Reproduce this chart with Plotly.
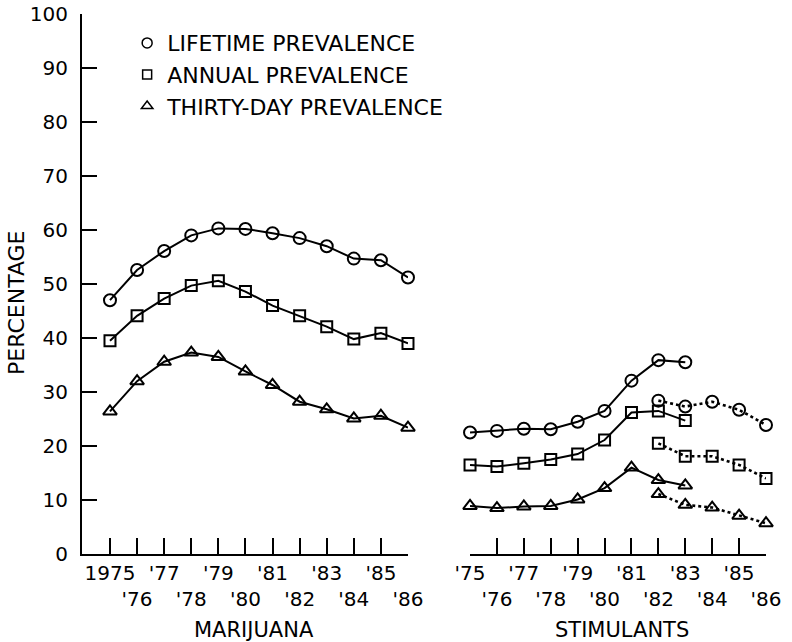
import plotly.graph_objects as go

years = list(range(1975, 1987))

# Marijuana, 1975-1986
mj_lifetime = [47.0, 52.6, 56.1, 59.0, 60.3, 60.2, 59.4, 58.5, 57.0, 54.7, 54.4, 51.2]
mj_annual = [39.5, 44.1, 47.3, 49.7, 50.6, 48.6, 46.0, 44.1, 42.1, 39.8, 40.9, 39.0]
mj_thirty = [26.4, 32.0, 35.6, 37.3, 36.5, 33.8, 31.3, 28.2, 26.8, 25.1, 25.6, 23.4]

# Stimulants, old definition 1975-1983 (solid)
st_years_old = list(range(1975, 1984))
st_lifetime_old = [22.5, 22.8, 23.2, 23.1, 24.5, 26.5, 32.1, 35.9, 35.5]
st_annual_old = [16.5, 16.2, 16.8, 17.5, 18.5, 21.1, 26.2, 26.5, 24.7]
st_thirty_old = [8.9, 8.5, 8.8, 8.9, 10.1, 12.2, 16.0, 13.7, 12.7]

# Stimulants, revised definition 1982-1986 (dotted)
st_years_new = list(range(1982, 1987))
st_lifetime_new = [28.4, 27.3, 28.2, 26.7, 23.9]
st_annual_new = [20.5, 18.1, 18.1, 16.5, 14.0]
st_thirty_new = [11.1, 9.1, 8.6, 7.1, 5.7]

# staggered tick labels: odd years on the first row, even years on the second
short = ["'%02d" % (y % 100) for y in years]
tick_text_mj = [("1975" if i == 0 else t) if i % 2 == 0 else "<br>" + t for i, t in enumerate(short)]
tick_text_st = [t if i % 2 == 0 else "<br>" + t for i, t in enumerate(short)]

FONT = "DejaVu Sans"
symbols = {"life": ("circle-open", 12), "annual": ("square-open", 11), "thirty": ("triangle-up-open", 12)}

fig = go.Figure()


def add(x, y, kind, xaxis, dash="solid"):
    sym, size = symbols[kind]
    fig.add_trace(go.Scatter(
        x=x, y=y, xaxis=xaxis, yaxis="y", mode="lines+markers",
        line=dict(color="black", width=2.6 if dash == "dot" else 2, dash=dash),
        marker=dict(symbol=sym, size=size, color="black", line=dict(width=2, color="black")),
        showlegend=False, cliponaxis=False,
    ))


add(years, mj_lifetime, "life", "x")
add(years, mj_annual, "annual", "x")
add(years, mj_thirty, "thirty", "x")
add(st_years_old, st_lifetime_old, "life", "x2")
add(st_years_old, st_annual_old, "annual", "x2")
add(st_years_old, st_thirty_old, "thirty", "x2")
add(st_years_new, st_lifetime_new, "life", "x2", dash="dot")
add(st_years_new, st_annual_new, "annual", "x2", dash="dot")
add(st_years_new, st_thirty_new, "thirty", "x2", dash="dot")

# legend-only entries (markers without lines)
for name, kind in [("LIFETIME PREVALENCE", "life"), ("ANNUAL PREVALENCE", "annual"),
                   ("THIRTY-DAY PREVALENCE", "thirty")]:
    sym, size = symbols[kind]
    fig.add_trace(go.Scatter(
        x=[None], y=[None], mode="markers", name=name,
        marker=dict(symbol=sym, size=size - 2, color="black", line=dict(width=1.5, color="black")),
    ))

axis_common = dict(
    showline=True, linecolor="black", linewidth=2, ticks="inside", ticklen=16,
    tickwidth=2, tickcolor="black", showgrid=False, zeroline=False, tickangle=0,
    automargin=False, tickfont=dict(family=FONT, size=20, color="black"), tickvals=years,
)

fig.update_layout(
    width=792, height=642,
    margin=dict(l=82, r=26, t=14, b=88),
    paper_bgcolor="white", plot_bgcolor="white",
    font=dict(family=FONT, color="black"),
    xaxis=dict(domain=[0, 0.4766], range=[1973.967, 1986], ticktext=tick_text_mj, anchor="y",
               **axis_common),
    xaxis2=dict(domain=[0.5673, 1], range=[1975, 1986], ticktext=tick_text_st, anchor="y",
                **axis_common),
    yaxis=dict(range=[0, 100], tickvals=list(range(0, 101, 10)), showline=True, linecolor="black",
               linewidth=2, ticks="inside", ticklen=15, tickwidth=2, tickcolor="black",
               showgrid=False, zeroline=False, anchor="x", automargin=False, ticklabelstandoff=8,
               tickfont=dict(family=FONT, size=20, color="black")),
    legend=dict(x=0.066, y=0.985, xanchor="left", yanchor="top", bgcolor="rgba(0,0,0,0)",
                font=dict(family=FONT, size=22, color="black"), tracegroupgap=0),
    annotations=[
        dict(text="MARIJUANA", x=0.2515, y=-0.1407, xref="paper", yref="paper",
             showarrow=False, font=dict(family=FONT, size=21), xanchor="center", yanchor="middle"),
        dict(text="STIMULANTS", x=0.7895, y=-0.1407, xref="paper", yref="paper",
             showarrow=False, font=dict(family=FONT, size=21), xanchor="center", yanchor="middle"),
        dict(text="PERCENTAGE", x=-0.095, y=0.465, xref="paper", yref="paper", textangle=-90,
             showarrow=False, font=dict(family=FONT, size=22), xanchor="center", yanchor="middle"),
    ],
)

# drop the browser's default 8px body margin so the figure fills the window
fig.write_html("out.html", config={"displayModeBar": False},
               post_script="document.body.style.margin = '0';")
